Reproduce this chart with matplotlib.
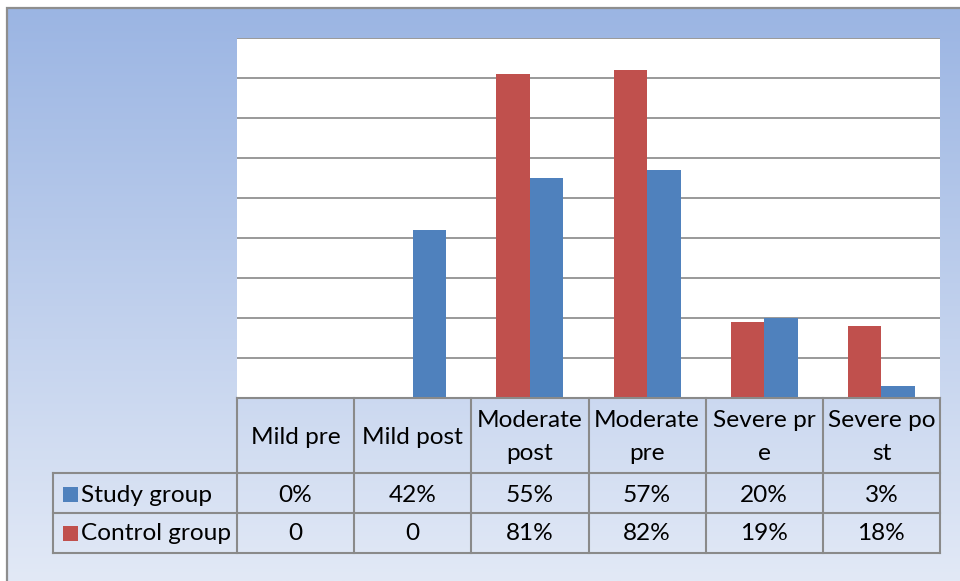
import numpy as np
import matplotlib
matplotlib.use("Agg")
import matplotlib.pyplot as plt
from matplotlib.patches import Rectangle
from matplotlib.transforms import blended_transform_factory

# Data
categories = ["Mild pre", "Mild post", "Moderate\npost", "Moderate\npre", "Severe pr\ne", "Severe po\nst"]
study_vals = [0, 42, 55, 57, 20, 3]
control_vals = [0, 0, 81, 82, 19, 18]
study_labels = ["0%", "42%", "55%", "57%", "20%", "3%"]
control_labels = ["0", "0", "81%", "82%", "19%", "18%"]
series_names = ["Study group", "Control group"]

BLUE = "#4F81BD"
RED = "#C0504D"
GRID = "#878787"
LINE = "#8A8A8A"
plt.rcParams['font.family'] = ['Lato', 'DejaVu Sans']

W, H = 960, 581
fig = plt.figure(figsize=(W / 100, H / 100), dpi=100)
fig.patch.set_facecolor("white")

def fx(px):
    return px / W

def fy(py):
    return 1 - py / H

# gradient background inside outer frame
bg = fig.add_axes([fx(7), 0, 1 - fx(7), fy(8)])
grad = np.linspace(0, 1, 256)[:, None]
top = np.array([0x9B, 0xB5, 0xE3]) / 255
bot = np.array([0xE2, 0xE9, 0xF6]) / 255
img = top[None, None, :] * (1 - grad[..., None]) + bot[None, None, :] * grad[..., None]
bg.imshow(img, aspect="auto", extent=[0, 1, 0, 1])
bg.set_axis_off()
fig.add_artist(Rectangle((fx(7), -0.1), 1.2, fy(8) + 0.1, transform=fig.transFigure,
                         fill=False, edgecolor="#8E8E8E", linewidth=1.6))

# plot area
ax = fig.add_axes([fx(237), fy(398), fx(940) - fx(237), fy(38) - fy(398)])
ax.set_facecolor("white")
x = np.arange(len(categories))
w = 0.286
ax.bar(x - w / 2, control_vals, width=w, color=RED, zorder=3)
ax.bar(x + w / 2, study_vals, width=w, color=BLUE, zorder=3)
ax.set_xlim(-0.5, len(categories) - 0.5)
ax.set_ylim(0, 90)
for g in range(0, 91, 10):
    ax.axhline(g, color=GRID, linewidth=1.2, zorder=1)
for s in ax.spines.values():
    s.set_visible(False)
ax.set_xticks([])
ax.set_yticks([])

# data table under the plot
tr = blended_transform_factory(ax.transData, ax.transAxes)

def ay(py):
    return (398 - py) / 360

left_x = -0.5 - (237 - 53) / (703 / 6)
right_x = len(categories) - 0.5
rows_y = [398, 473, 513, 553]
lk = dict(color=LINE, linewidth=1.5, clip_on=False, transform=tr, zorder=5)

# horizontal lines
ax.plot([-0.5, right_x], [ay(398)] * 2, **lk)
for py in rows_y[1:]:
    ax.plot([left_x, right_x], [ay(py)] * 2, **lk)
# vertical lines
ax.plot([left_x, left_x], [ay(473), ay(553)], **lk)
for i in range(len(categories) + 1):
    ax.plot([i - 0.5] * 2, [ay(398), ay(553)], **lk)

fs = 17.6
for i, c in enumerate(categories):
    ax.text(i, ay(437), c, ha="center", va="center", fontsize=fs, linespacing=1.72,
            transform=tr, clip_on=False)
    ax.text(i, ay(495), study_labels[i], ha="center", va="center", fontsize=fs,
            transform=tr, clip_on=False)
    ax.text(i, ay(534), control_labels[i], ha="center", va="center", fontsize=fs,
            transform=tr, clip_on=False)

# legend keys in row headers
for name, col, py in [(series_names[0], BLUE, 494), (series_names[1], RED, 533)]:
    fig.add_artist(Rectangle((fx(63), fy(py + 7.5)), fx(15), 15 / H, transform=fig.transFigure,
                             facecolor=col, edgecolor="none"))
    fig.text(fx(81), fy(py + 1), name, ha="left", va="center", fontsize=fs)

fig.savefig("out.png", dpi=100)
